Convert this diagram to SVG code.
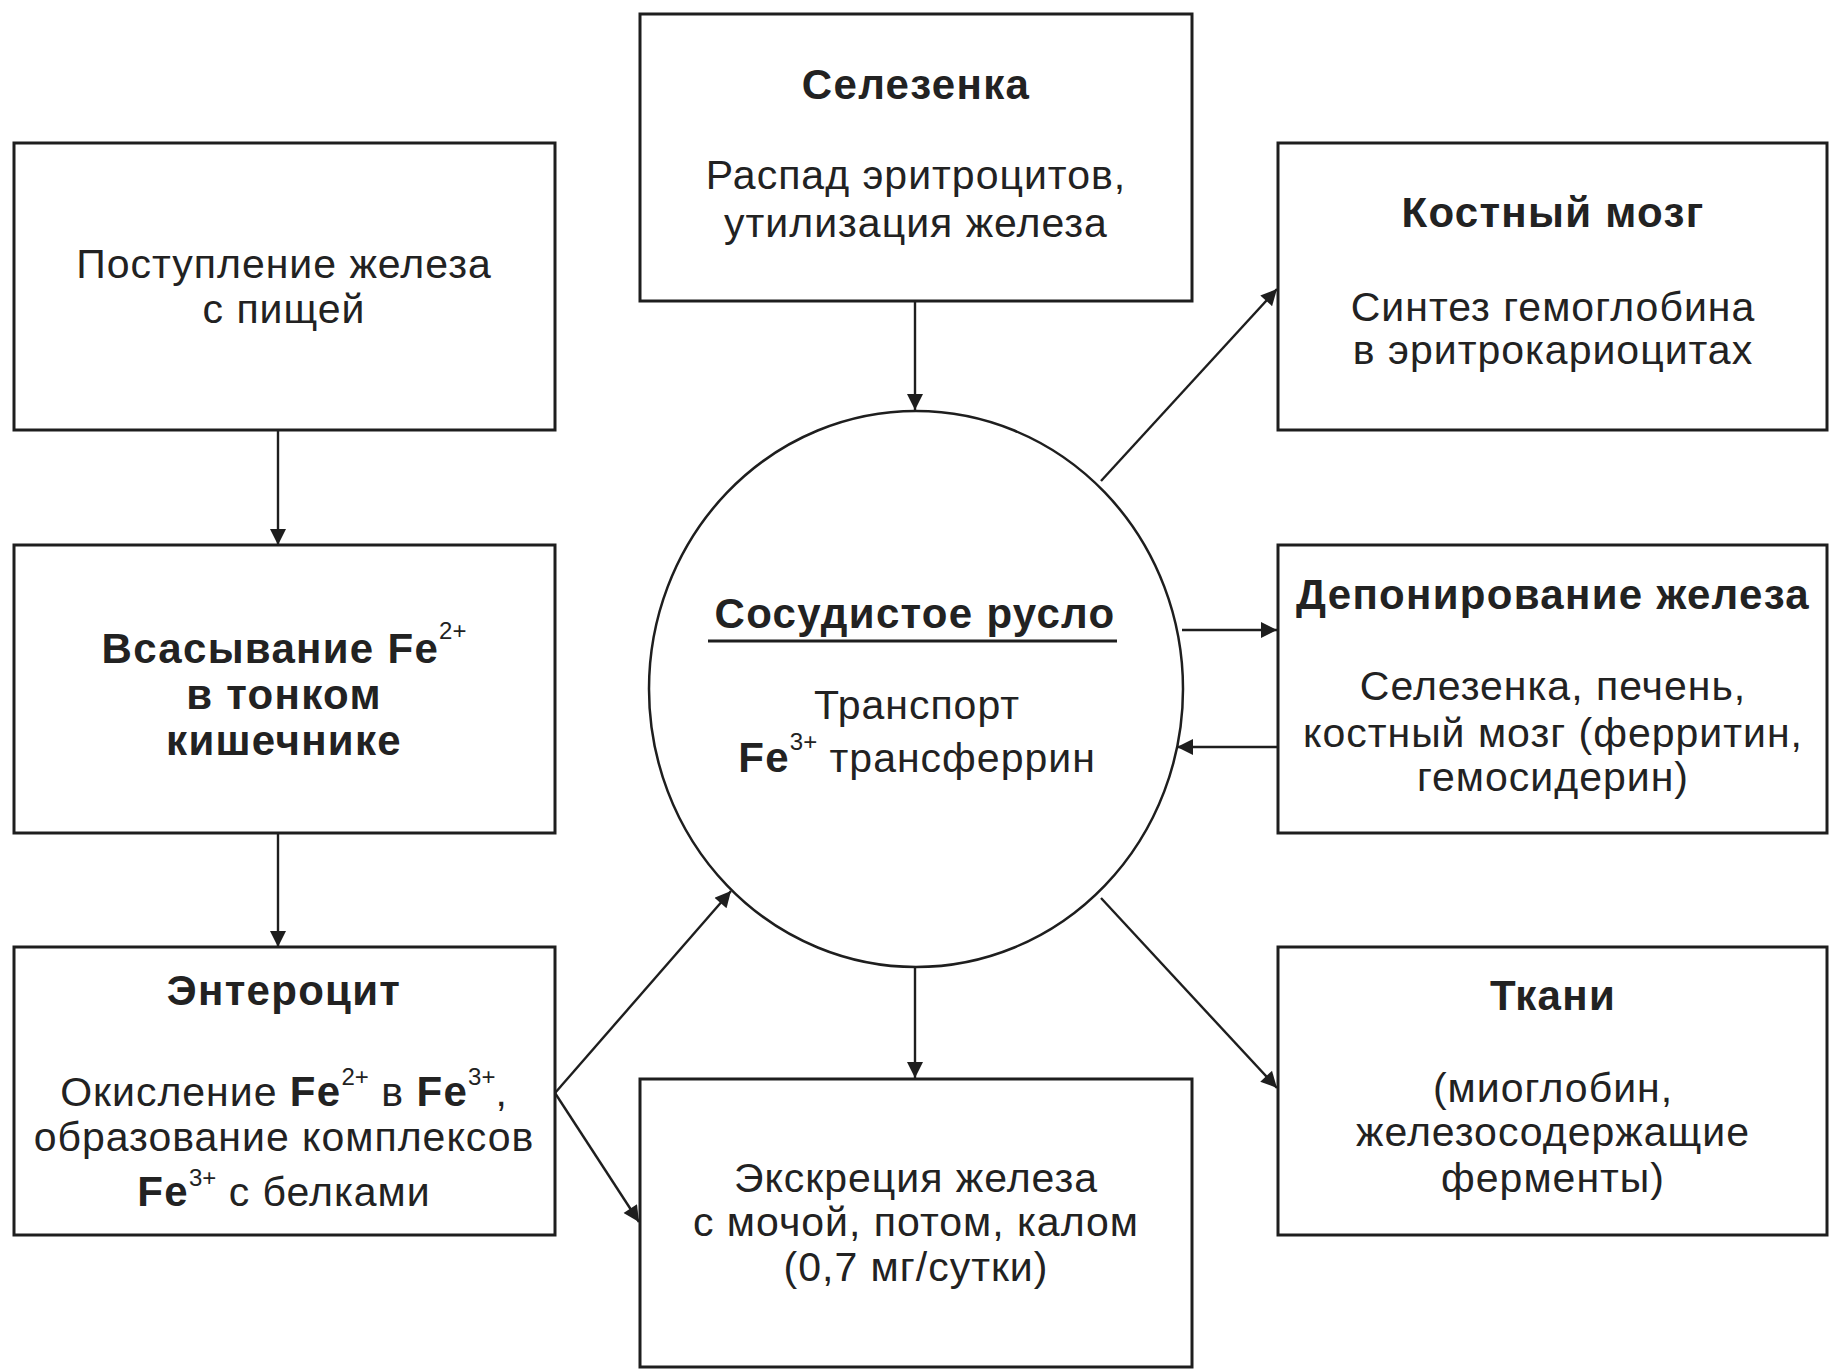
<svg xmlns="http://www.w3.org/2000/svg" width="1829" height="1370" viewBox="0 0 1829 1370">
<defs>
<style>
.box{fill:#fff;stroke:#1e1e1e;stroke-width:3}
.ring{fill:#fff;stroke:#1e1e1e;stroke-width:2.5}
.ln{fill:none;stroke:#1e1e1e;stroke-width:2.4}
.t{font-family:"Liberation Sans",Arial,sans-serif;font-size:41px;letter-spacing:1px;fill:#222;text-anchor:middle}
.b{font-weight:bold;font-size:42px;letter-spacing:1.3px}
.sup{font-size:24px;font-weight:normal;letter-spacing:0}
</style>
<marker id="ah" viewBox="0 0 10 10" refX="10" refY="5" orient="auto" markerUnits="userSpaceOnUse" markerWidth="25" markerHeight="16">
<path d="M0,0 L10,5 L0,10 z" fill="#1e1e1e"/>
</marker>
</defs>
<rect width="1829" height="1370" fill="#fff"/>

<g id="connectors">
<line class="ln" x1="278" y1="430" x2="278" y2="545" marker-end="url(#ah)"/>
<line class="ln" x1="278" y1="833" x2="278" y2="947" marker-end="url(#ah)"/>
<line class="ln" x1="915" y1="301" x2="915" y2="410" marker-end="url(#ah)"/>
<line class="ln" x1="1101" y1="481" x2="1277" y2="289" marker-end="url(#ah)"/>
<line class="ln" x1="1182" y1="630" x2="1277" y2="630" marker-end="url(#ah)"/>
<line class="ln" x1="1278" y1="747" x2="1177" y2="747" marker-end="url(#ah)"/>
<line class="ln" x1="1101" y1="898" x2="1277" y2="1088" marker-end="url(#ah)"/>
<line class="ln" x1="915" y1="967" x2="915" y2="1078" marker-end="url(#ah)"/>
<line class="ln" x1="555" y1="1093" x2="731" y2="891" marker-end="url(#ah)"/>
<line class="ln" x1="555" y1="1093" x2="639" y2="1222" marker-end="url(#ah)"/>
</g>

<g id="node-intake">
<rect class="box" x="14" y="143" width="541" height="287"/>
<text class="t"><tspan x="284" y="278">Поступление железа</tspan><tspan x="284" y="323">с пищей</tspan></text>
</g>

<g id="node-absorption">
<rect class="box" x="14" y="545" width="541" height="288"/>
<text class="t b"><tspan x="284" y="663">Всасывание Fe<tspan class="sup" dy="-24">2+</tspan></tspan><tspan x="284" y="709">в тонком</tspan><tspan x="284" y="755">кишечнике</tspan></text>
</g>

<g id="node-enterocyte">
<rect class="box" x="14" y="947" width="541" height="288"/>
<text class="t b" x="284" y="1005">Энтероцит</text>
<text class="t"><tspan x="284" y="1106">Окисление <tspan class="b">Fe</tspan><tspan class="sup" dy="-21">2+</tspan><tspan dy="21"> в </tspan><tspan class="b">Fe</tspan><tspan class="sup" dy="-21">3+</tspan><tspan dy="21">,</tspan></tspan><tspan x="284" y="1151">образование комплексов</tspan><tspan x="284" y="1206"><tspan class="b">Fe</tspan><tspan class="sup" dy="-20">3+</tspan><tspan dy="20"> с белками</tspan></tspan></text>
</g>

<g id="node-spleen">
<rect class="box" x="640" y="14" width="552" height="287"/>
<text class="t b" x="916" y="99">Селезенка</text>
<text class="t"><tspan x="916" y="189">Распад эритроцитов,</tspan><tspan x="916" y="237">утилизация железа</tspan></text>
</g>

<g id="node-blood">
<ellipse class="ring" cx="916" cy="689" rx="267" ry="278"/>
<text class="t b" x="915" y="628">Сосудистое русло</text>
<line x1="708" y1="641" x2="1117" y2="641" stroke="#1e1e1e" stroke-width="3"/>
<text class="t"><tspan x="917" y="719">Транспорт</tspan><tspan x="917" y="772"><tspan class="b">Fe</tspan><tspan class="sup" dy="-22">3+</tspan><tspan dy="22"> трансферрин</tspan></tspan></text>
</g>

<g id="node-marrow">
<rect class="box" x="1278" y="143" width="549" height="287"/>
<text class="t b" x="1553" y="227">Костный мозг</text>
<text class="t"><tspan x="1553" y="321">Синтез гемоглобина</tspan><tspan x="1553" y="364">в эритрокариоцитах</tspan></text>
</g>

<g id="node-depot">
<rect class="box" x="1278" y="545" width="549" height="288"/>
<text class="t b" x="1553" y="609">Депонирование железа</text>
<text class="t"><tspan x="1553" y="700">Селезенка, печень,</tspan><tspan x="1553" y="747">костный мозг (ферритин,</tspan><tspan x="1553" y="791">гемосидерин)</tspan></text>
</g>

<g id="node-tissues">
<rect class="box" x="1278" y="947" width="549" height="288"/>
<text class="t b" x="1553" y="1010">Ткани</text>
<text class="t"><tspan x="1553" y="1102">(миоглобин,</tspan><tspan x="1553" y="1146">железосодержащие</tspan><tspan x="1553" y="1192">ферменты)</tspan></text>
</g>

<g id="node-excretion">
<rect class="box" x="640" y="1079" width="552" height="288"/>
<text class="t"><tspan x="916" y="1192">Экскреция железа</tspan><tspan x="916" y="1236">с мочой, потом, калом</tspan><tspan x="916" y="1281">(0,7 мг/сутки)</tspan></text>
</g>
</svg>
